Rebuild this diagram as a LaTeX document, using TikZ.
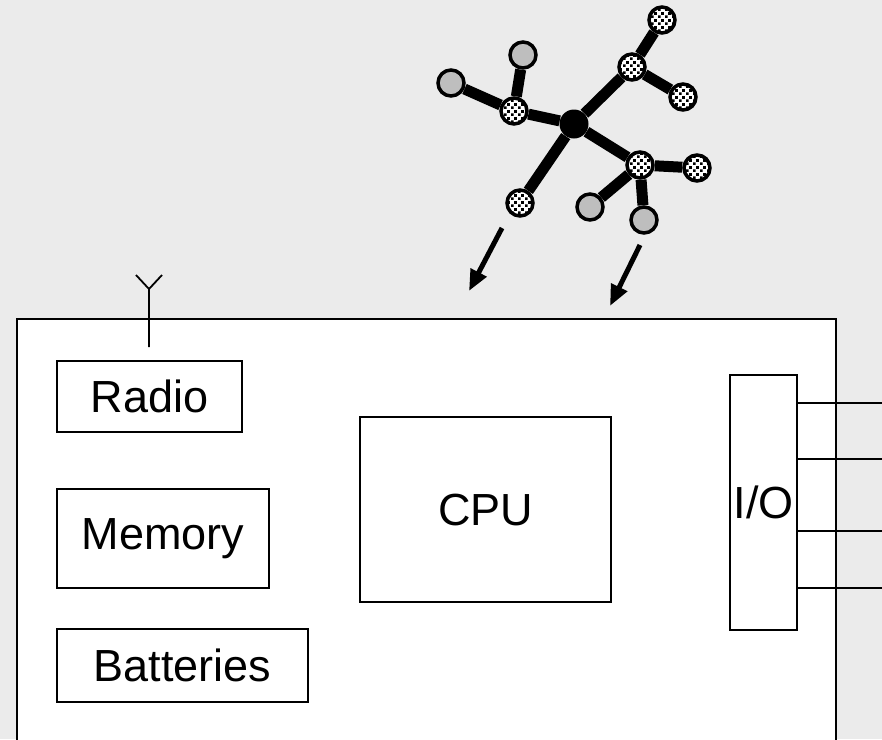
\documentclass[tikz,border=0pt]{standalone}
\usepackage{fontspec}
\setmainfont{Liberation Sans}
\usetikzlibrary{arrows.meta, patterns.meta}
\definecolor{bgcol}{HTML}{EBEBEB}
\definecolor{shellcol}{HTML}{BEBEBE}
\def\partfont{\fontsize{45}{54}\selectfont}

\tikzdeclarepattern{
  name=specks,
  type=uncolored,
  bottom left={(0pt,0pt)},
  top right={(7pt,7pt)},
  tile size={(7pt,7pt)},
  code={
    \fill (0pt,0pt) rectangle (3pt,3pt);
    \fill (3.5pt,3.5pt) rectangle (6.5pt,6.5pt);
  }
}

\tikzset{
  part/.style={draw, line width=1.8pt, fill=white, inner sep=0pt, font=\partfont},
  bond/.style={line width=11pt},
  hub/.style={circle, fill=black, minimum size=29pt, inner sep=0pt},
  speck/.style={circle, draw, line width=3.5pt, fill=white,
    postaction={pattern=specks, pattern color=black}, minimum size=26pt, inner sep=0pt},
  plain/.style={circle, draw, line width=3.5pt, fill=shellcol, minimum size=26pt, inner sep=0pt},
  feed/.style={line width=5pt, -{Triangle[length=21pt, width=17pt]}}
}

\begin{document}
\begin{tikzpicture}[x=1pt, y=-1pt]
  \fill[bgcol] (0,0) rectangle (882,739);
  \useasboundingbox (0,0) rectangle (882,739);
  \clip (0,0) rectangle (882,739);

  % sensor board
  \draw[line width=1.8pt, fill=white] (17,319) rectangle (836,760);

  \node[part, minimum width=185pt, minimum height=71pt] (radio) at (149.5,396.5) {Radio};
  \node[part, minimum width=212pt, minimum height=99pt] (memory) at (163,538.5) {Memory};
  \node[part, minimum width=251pt, minimum height=73pt] (batteries) at (182.5,665.5) {Batteries};
  \node[part, minimum width=251pt, minimum height=185pt] (cpu) at (485.5,509.5) {CPU};
  \node[part, minimum width=67pt, minimum height=255pt] (io) at (763.5,502.5) {I/O};

  % antenna
  \coordinate (antfoot) at (149,347);
  \coordinate (anttop) at (149,289);
  \draw[line width=1.8pt] (antfoot) -- (anttop) -- +(-13,-14);
  \draw[line width=1.8pt] (anttop) -- +(13,-14);

  % io pins
  \foreach \y [count=\i] in {403,459,531,588} {
    \coordinate (pin\i) at (882,\y);
    \draw[line width=1.8pt] (io.east |- pin\i) -- (pin\i);
  }

  % molecule
  \node[hub] (m0) at (574,124) {};
  \node[speck] (m1) at (514,111) {};
  \node[plain] (m2) at (451,83) {};
  \node[plain] (m3) at (523,55) {};
  \node[speck] (m4) at (632,67) {};
  \node[speck] (m5) at (662,20) {};
  \node[speck] (m6) at (683,97) {};
  \node[speck] (m7) at (640,165) {};
  \node[speck] (m8) at (697,168) {};
  \node[plain] (m9) at (590,207) {};
  \node[plain] (m10) at (644,220) {};
  \node[speck] (m11) at (520,203) {};

  \draw[bond] (m0) -- (m1);
  \draw[bond] (m1) -- (m2);
  \draw[bond] (m1) -- (m3);
  \draw[bond] (m0) -- (m4);
  \draw[bond] (m4) -- (m5);
  \draw[bond] (m4) -- (m6);
  \draw[bond] (m0) -- (m7);
  \draw[bond] (m7) -- (m8);
  \draw[bond] (m7) -- (m9);
  \draw[bond] (m7) -- (m10);
  \draw[bond] (m0) -- (m11);

  % drop arrows
  \coordinate (dropA) at (502,228);
  \coordinate (landA) at (469,291);
  \coordinate (dropB) at (640,245);
  \coordinate (landB) at (610,306);
  \draw[feed] (dropA) -- (landA);
  \draw[feed] (dropB) -- (landB);
\end{tikzpicture}
\end{document}
